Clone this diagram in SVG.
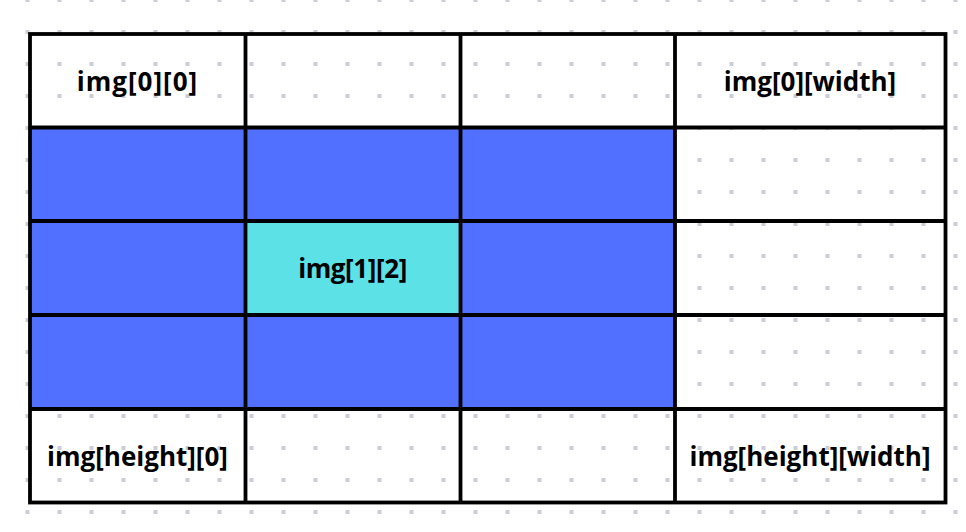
<svg xmlns="http://www.w3.org/2000/svg" width="966" height="532" viewBox="0 0 966 532">
<style>
.lbl{font-family:"Open Sans","Liberation Sans",sans-serif;font-weight:700;font-size:26px;fill:#000;text-anchor:middle;dominant-baseline:central}
.line{stroke:#000;stroke-width:3.8;fill:none}
.blue{fill:#5170FF}
.cyan{fill:#5CE1E6}
</style>
<defs>
<pattern id="dots" patternUnits="userSpaceOnUse" x="11.5" y="-16" width="32" height="32">
<rect x="14" y="14" width="4" height="4" fill="#c9ced8"/>
</pattern>
</defs>
<rect width="966" height="532" fill="#fff"/>
<rect width="966" height="532" fill="url(#dots)"/>
<g id="cells">
<rect class="blue" x="30" y="127.5" width="645" height="281.5"/>
<rect class="cyan" x="245.5" y="221" width="215" height="94"/>
</g>
<g id="grid">
<rect class="line" x="30" y="34" width="915.5" height="468.5"/>
<path class="line" d="M245.5 34V502.5M460.5 34V502.5M675 34V502.5M30 127.5H945.5M30 221H945.5M30 315H945.5M30 409H945.5"/>
</g>
<g id="node-00"><text class="lbl" x="137.5" y="81" letter-spacing="1">img[0][0]</text></g>
<g id="node-0w"><text class="lbl" x="810" y="81">img[0][width]</text></g>
<g id="node-12"><text class="lbl" x="352.5" y="268" letter-spacing="-0.4">img[1][2]</text></g>
<g id="node-h0"><text class="lbl" x="137.5" y="456">img[height][0]</text></g>
<g id="node-hw"><text class="lbl" x="810" y="456">img[height][width]</text></g>
</svg>
